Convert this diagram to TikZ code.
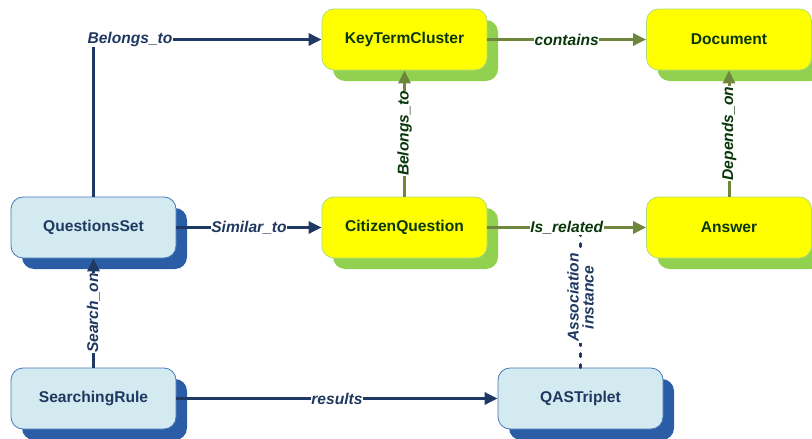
\documentclass[tikz,border=0pt]{standalone}
\usepackage{fontspec}
\setmainfont{Liberation Sans}
\usetikzlibrary{arrows.meta,calc}

\definecolor{bluefill}{RGB}{210,234,240}
\definecolor{blueedge}{RGB}{70,120,185}
\definecolor{blueshadow}{RGB}{42,93,166}
\definecolor{bluetext}{RGB}{31,56,96}
\definecolor{blueline}{RGB}{31,56,100}
\definecolor{yellowfill}{RGB}{255,255,0}
\definecolor{yellowedge}{RGB}{175,220,120}
\definecolor{greenshadow}{RGB}{146,208,80}
\definecolor{greentext}{RGB}{10,55,10}
\definecolor{greenline}{RGB}{110,135,60}

\tikzset{
  box/.style={rectangle, rounded corners=12pt, minimum width=165pt, minimum height=61pt,
    line width=0.8pt, font=\fontsize{15.6}{18}\selectfont\bfseries, inner sep=0pt},
  bluebox/.style={box, fill=bluefill, draw=blueedge, text=bluetext,
    preaction={fill=blueshadow, transform canvas={shift={(11pt,-11pt)}}}},
  yellowbox/.style={box, fill=yellowfill, draw=yellowedge, text=greentext,
    preaction={fill=greenshadow, transform canvas={shift={(11pt,-11pt)}}}},
  blink/.style={draw=blueline, line width=3pt, -{Triangle[length=13pt,width=12pt]}},
  glink/.style={draw=greenline, line width=3pt, -{Triangle[length=13pt,width=12pt]}},
  lbl/.style={fill=white, inner sep=0.5pt, font=\fontsize{15.6}{18}\selectfont\bfseries\itshape},
  blbl/.style={lbl, text=bluetext},
  glbl/.style={lbl, text=greentext},
}

\begin{document}
\begin{tikzpicture}[x=1pt,y=-1pt]
\useasboundingbox (0,0) rectangle (812,439);

% entity boxes
\node[yellowbox] (ktc) at (404.5,39.5) {KeyTermCluster};
\node[yellowbox] (doc) at (729,39.5) {Document};
\node[bluebox]   (qs)  at (93.5,227.5) {QuestionsSet};
\node[yellowbox] (cq)  at (404.5,227.5) {CitizenQuestion};
\node[yellowbox] (ans) at (729,227.5) {Answer};
\node[bluebox]   (sr)  at (93.5,398.5) {SearchingRule};
\node[bluebox]   (qas) at (580.5,398.5) {QASTriplet};

% association instance (dotted) towards the Is_related link
\coordinate (assoc) at (qas.north |- cq.east);
\draw[draw=blueline, line width=3pt, line cap=round, dash pattern=on 3pt off 8pt]
  (qas.north) -- (assoc)
  node[midway, rotate=90, fill=white, inner sep=1pt, align=center, text=bluetext,
       font=\fontsize{15.6}{15}\selectfont\bfseries\itshape] {Association\\instance};

% blue links
\draw[blink] (qs.north) |- (ktc.west) node[blbl, pos=0.58] {Belongs\_to};
\draw[blink] (qs.east) -- (cq.west) node[blbl, midway] {Similar\_to};
\draw[blink] (sr.north) -- (qs.south) node[blbl, midway, rotate=90] {Search\_on};
\draw[blink] (sr.east) -- (qas.west) node[blbl, midway] {results};

% green links
\draw[glink] (cq.north) -- (ktc.south) node[glbl, midway, rotate=90] {Belongs\_to};
\draw[glink] (ktc.east) -- (doc.west) node[glbl, midway] {contains};
\draw[glink] (ans.north) -- (doc.south) node[glbl, midway, rotate=90] {Depends\_on};
\draw[glink] (cq.east) -- (ans.west) node[glbl, midway] {Is\_related};
\end{tikzpicture}
\end{document}
